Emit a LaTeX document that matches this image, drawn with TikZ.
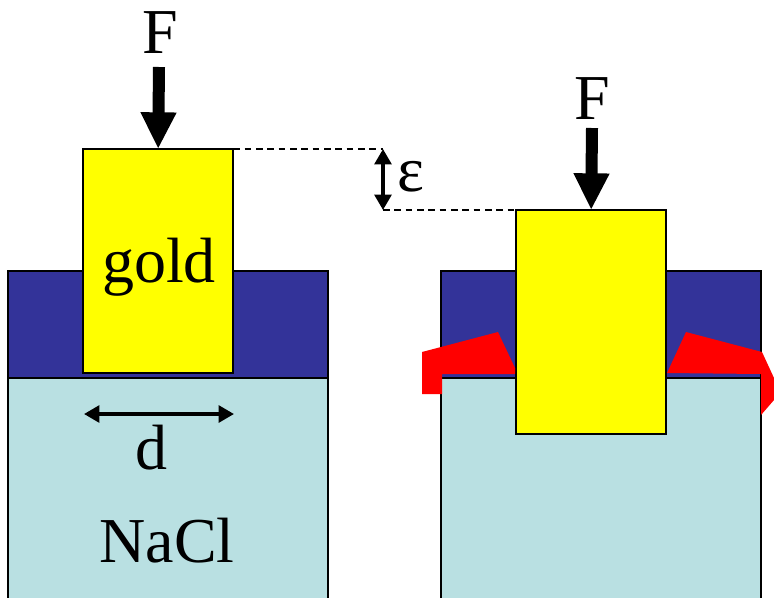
\documentclass[tikz,border=0pt]{standalone}
\usepackage{fontspec}
\setmainfont{Liberation Serif}
\usetikzlibrary{arrows.meta}
\definecolor{bluelayer}{RGB}{51,51,153}
\definecolor{salt}{RGB}{185,224,226}
\definecolor{hot}{RGB}{255,0,0}
\definecolor{goldfill}{RGB}{255,255,0}
\tikzset{
  blockbox/.style={draw=black,line width=1.4pt,anchor=north west,inner sep=0pt,outer sep=0pt},
  layerbox/.style={blockbox,fill=bluelayer,minimum width=240pt,minimum height=80.25pt},
  saltbox/.style={blockbox,fill=salt,minimum width=240pt,minimum height=180pt},
  goldbox/.style={blockbox,fill=goldfill,minimum width=112.75pt,minimum height=168pt},
  bigtext/.style={font=\fontsize{48}{48}\selectfont,inner sep=0pt},
  forcearrow/.style={line width=9pt,-{Triangle[length=27.5pt,width=25pt]}},
  thinarrow/.style={line width=2.7pt,{Triangle[length=11.5pt,width=12.5pt]}-{Triangle[length=11.5pt,width=12.5pt]}},
  leader/.style={line width=1.2pt,dash pattern=on 5pt off 3.5pt},
  damage/.style={fill=hot,draw=none}
}
\begin{document}
\begin{tikzpicture}[x=0.75pt,y=-0.75pt]
\useasboundingbox (0,0) rectangle (774,597);
\clip (0,0) rectangle (774,597);
% left stack
\node[layerbox] (layerL) at (8,271) {};
\node[saltbox] (saltL) at (8,378) {};
\node[goldbox] (goldL) at (83,149) {};
% right stack
\node[layerbox] (layerR) at (441,271) {};
\node[saltbox] (saltR) at (441,378) {};
\node[goldbox] (goldR) at (516,210) {};
% red damaged regions
\fill[damage] (422,352) -- (498,332) -- (515,368) -- (515,374) -- (442,374) -- (442,394) -- (422,394) -- cycle;
\fill[damage] (667,373) -- (686,332) -- (762,352) -- (774,378) -- (774,400) -- (761,415) -- (761,374) -- cycle;
% labels
\node[bigtext] (fL) at (160,33) {F};
\node[bigtext] (fR) at (592,99) {F};
\node[bigtext] (goldtext) at (159,267) {gold};
\node[bigtext] (dtext) at (151,448) {d};
\node[bigtext] (nacl) at (167,541) {NaCl};
\node[font=\fontsize{48}{48}\selectfont,inner sep=0pt] (eps) at (411,177) {ε};
% force arrows
\coordinate (fLstart) at (159,67);
\coordinate (fRstart) at (592,128);
\draw[forcearrow] (fLstart) -- (goldL.north);
\draw[forcearrow] (fRstart) -- (goldR.north);
% epsilon
\coordinate (e1) at (383,149);
\coordinate (e2) at (383,210);
\draw[leader] (goldL.north east) -- (e1);
\draw[leader] (e2) -- (goldR.north west);
\draw[thinarrow] (e1) -- (e2);
% d
\coordinate (d1) at (84,414);
\coordinate (d2) at (234,414);
\draw[thinarrow] (d1) -- (d2);
\end{tikzpicture}
\end{document}
